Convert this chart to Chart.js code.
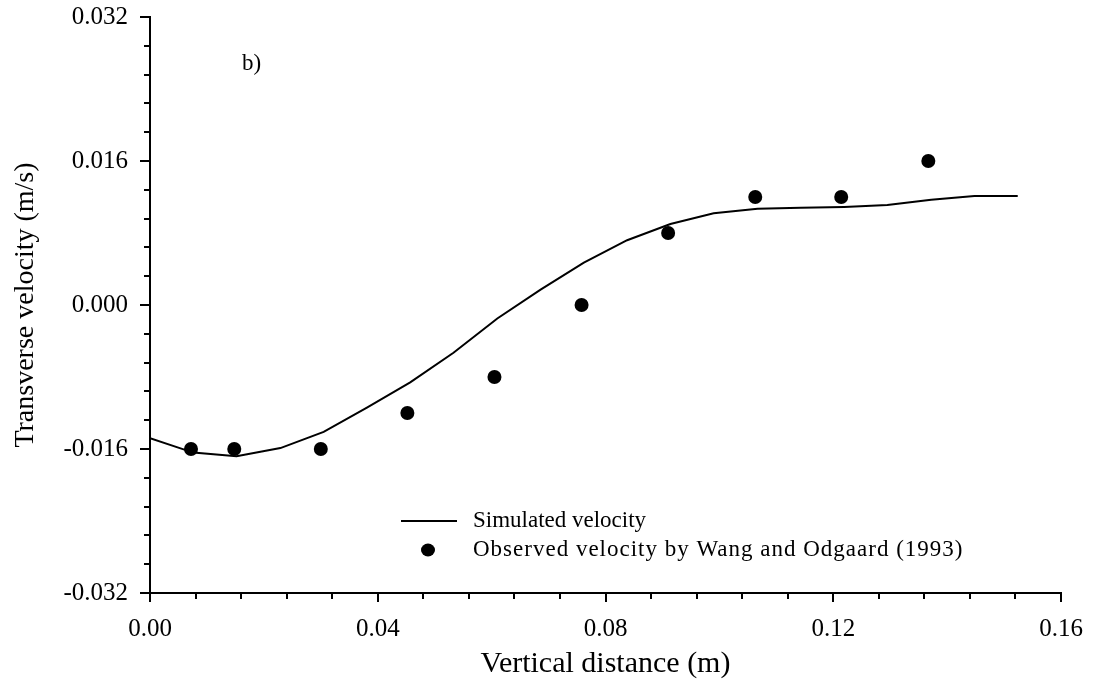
<!DOCTYPE html>
<html>
<head>
<meta charset="utf-8">
<script src="https://cdn.jsdelivr.net/npm/chart.js@4.4.1/dist/chart.umd.min.js"></script>
<style>
  html, body { margin: 0; padding: 0; background: #fff; }
  #wrap { width: 1095px; height: 684px; }
</style>
</head>
<body>
<div id="wrap"><canvas id="c" width="1095" height="684"></canvas></div>
<script>
// ---- Data ----
const simX = [0, 0.0076, 0.0152, 0.0229, 0.0305, 0.0381, 0.0457, 0.0533, 0.061, 0.0686, 0.0762, 0.0838, 0.0914, 0.099, 0.1067, 0.1143, 0.1219, 0.1295, 0.1372, 0.1448, 0.1524];
const simY = [-0.0148, -0.0164, -0.0168, -0.0159, -0.0141, -0.0114, -0.0086, -0.0053, -0.0015, 0.0017, 0.0047, 0.0072, 0.009, 0.0102, 0.0107, 0.0108, 0.0109, 0.0111, 0.0117, 0.0121, 0.0121];
const obsX = [0.0072, 0.0148, 0.0300, 0.0452, 0.0605, 0.0758, 0.0910, 0.1063, 0.1214, 0.1367];
const obsY = [-0.016, -0.016, -0.016, -0.012, -0.008, 0.0, 0.008, 0.012, 0.012, 0.016];

const xTicks = [0, 0.008, 0.016, 0.024, 0.032, 0.04, 0.048, 0.056, 0.064, 0.072, 0.08, 0.088, 0.096, 0.104, 0.112, 0.12, 0.128, 0.136, 0.144, 0.152, 0.16];
const xMajor = [0, 0.04, 0.08, 0.12, 0.16];
const xLabels = ['0.00', '0.04', '0.08', '0.12', '0.16'];
const yTicks = [-0.032, -0.0288, -0.0256, -0.0224, -0.0192, -0.016, -0.0128, -0.0096, -0.0064, -0.0032, 0, 0.0032, 0.0064, 0.0096, 0.0128, 0.016, 0.0192, 0.0224, 0.0256, 0.0288, 0.032];
const yMajor = [-0.032, -0.016, 0, 0.016, 0.032];
const yLabels = ['-0.032', '-0.016', '0.000', '0.016', '0.032'];

const seriesNames = ['Simulated velocity', 'Observed velocity by Wang and Odgaard (1993)'];
const panelLabel = 'b)';
const xTitle = 'Vertical distance (m)';
const yTitle = 'Transverse velocity (m/s)';

const FONT = '"Liberation Serif", "Times New Roman", serif';

function majorIndex(v, majors) {
  for (let i = 0; i < majors.length; i++) if (Math.abs(v - majors[i]) < 1e-9) return i;
  return -1;
}

const tickPlugin = {
  id: 'customTicks',
  afterDraw(chart) {
    const ctx = chart.ctx;
    const xs = chart.scales.x, ys = chart.scales.y;
    const area = chart.chartArea;
    ctx.save();
    ctx.strokeStyle = '#000';
    ctx.lineWidth = 2;
    ctx.lineCap = 'butt';
    xs.ticks.forEach(t => {
      const px = Math.round(xs.getPixelForValue(t.value));
      const len = majorIndex(t.value, xMajor) >= 0 ? 9 : 6;
      ctx.beginPath();
      ctx.moveTo(px, area.bottom);
      ctx.lineTo(px, area.bottom + len);
      ctx.stroke();
    });
    ys.ticks.forEach(t => {
      const py = Math.round(ys.getPixelForValue(t.value));
      const len = majorIndex(t.value, yMajor) >= 0 ? 10 : 6;
      ctx.beginPath();
      ctx.moveTo(area.left - len, py);
      ctx.lineTo(area.left, py);
      ctx.stroke();
    });

    // panel label
    ctx.fillStyle = '#000';
    ctx.font = '23px ' + FONT;
    ctx.textAlign = 'left';
    ctx.textBaseline = 'alphabetic';
    ctx.fillText(panelLabel, 242, 70);

    // legend
    ctx.font = '23px ' + FONT;
    ctx.textBaseline = 'middle';
    ctx.beginPath();
    ctx.lineWidth = 2;
    ctx.moveTo(401, 521);
    ctx.lineTo(457, 521);
    ctx.stroke();
    ctx.fillText(seriesNames[0], 473, 521);
    ctx.beginPath();
    ctx.ellipse(428, 550, 7, 6.5, 0, 0, Math.PI * 2);
    ctx.fill();
    ctx.letterSpacing = '1px';
    ctx.fillText(seriesNames[1], 473, 550);
    ctx.restore();
  }
};

new Chart(document.getElementById('c'), {
  type: 'scatter',
  data: {
    datasets: [
      {
        label: seriesNames[0],
        data: simX.map((x, i) => ({ x: x, y: simY[i] })),
        showLine: true,
        borderColor: '#000',
        borderWidth: 2,
        pointRadius: 0,
        tension: 0,
        fill: false
      },
      {
        label: seriesNames[1],
        data: obsX.map((x, i) => ({ x: x, y: obsY[i] })),
        showLine: false,
        pointRadius: 7,
        pointStyle: 'circle',
        backgroundColor: '#000',
        borderColor: '#000',
        borderWidth: 0
      }
    ]
  },
  options: {
    responsive: false,
    animation: false,
    devicePixelRatio: 1,
    layout: { padding: { top: 17, right: 34, left: 0, bottom: 0 } },
    plugins: { legend: { display: false }, tooltip: { enabled: false } },
    scales: {
      x: {
        type: 'linear',
        min: 0, max: 0.16,
        afterBuildTicks(s) { s.ticks = xTicks.map(v => ({ value: v })); },
        afterFit(s) { s.height = 91; s.paddingLeft = 0; s.paddingRight = 0; },
        grid: { display: true, drawOnChartArea: false, drawTicks: false, color: 'rgba(0,0,0,0)' },
        border: { display: true, color: '#000', width: 2 },
        ticks: {
          autoSkip: false, maxRotation: 0, minRotation: 0,
          padding: 21,
          color: '#000',
          font: { family: FONT, size: 25 },
          callback(v) { const i = majorIndex(v, xMajor); return i >= 0 ? xLabels[i] : ''; }
        },
        title: {
          display: true, text: xTitle, color: '#000',
          font: { family: FONT, size: 30 },
          padding: { top: 0, bottom: 2 }
        }
      },
      y: {
        type: 'linear',
        min: -0.032, max: 0.032,
        afterBuildTicks(s) { s.ticks = yTicks.map(v => ({ value: v })); },
        afterFit(s) { s.width = 150; s.paddingTop = 0; s.paddingBottom = 0; },
        grid: { display: true, drawOnChartArea: false, drawTicks: false, color: 'rgba(0,0,0,0)' },
        border: { display: true, color: '#000', width: 2 },
        ticks: {
          autoSkip: false,
          padding: 22,
          color: '#000',
          font: { family: FONT, size: 25 },
          callback(v) { const i = majorIndex(v, yMajor); return i >= 0 ? yLabels[i] : ''; }
        },
        title: {
          display: true, text: yTitle, color: '#000',
          font: { family: FONT, size: 28 },
          padding: { top: 9, bottom: 0 }
        }
      }
    }
  },
  plugins: [tickPlugin]
});
</script>
</body>
</html>
